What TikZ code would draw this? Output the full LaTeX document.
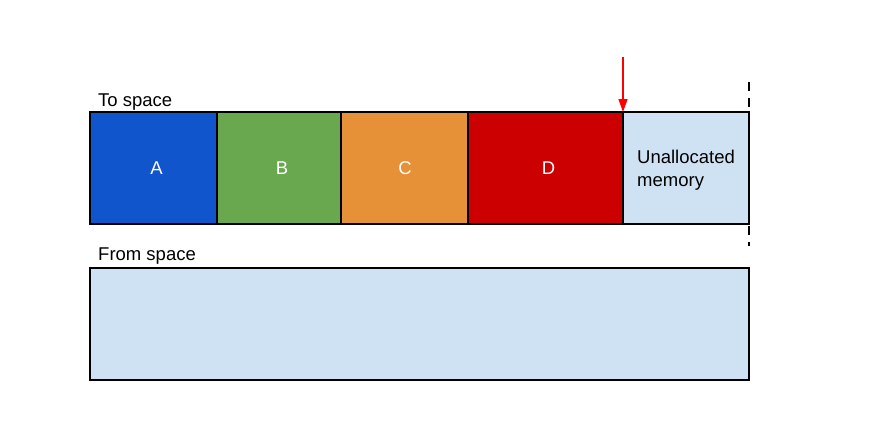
\documentclass[tikz,border=0pt]{standalone}
\usepackage{fontspec}
\setmainfont{Liberation Sans}
\usetikzlibrary{arrows.meta}
\definecolor{cA}{HTML}{1155CC}
\definecolor{cB}{HTML}{6AA84F}
\definecolor{cC}{HTML}{E69138}
\definecolor{cD}{HTML}{CC0000}
\definecolor{cU}{HTML}{CFE2F3}
\begin{document}
\begin{tikzpicture}[x=1pt,y=-1pt,
  blk/.style={draw=black,line width=1.3pt,inner sep=0pt,outer sep=0pt,font=\fontsize{18.5}{22}\selectfont,align=left},
  lbl/.style={anchor=base west,inner sep=0pt,font=\fontsize{18.5}{22}\selectfont}]
\useasboundingbox[fill=white] (0,0) rectangle (870,424);
\node[blk,fill=cA,text=white,minimum width=127pt,minimum height=112pt] (A) at (153.5,168) {\hspace*{6pt}A};
\node[blk,fill=cB,text=white,minimum width=124pt,minimum height=112pt] (B) at (279,168) {\hspace*{6pt}B};
\node[blk,fill=cC,text=white,minimum width=127pt,minimum height=112pt] (C) at (404.5,168) {\hspace*{1pt}C};
\node[blk,fill=cD,text=white,minimum width=155pt,minimum height=112pt] (D) at (545.5,168) {\hspace*{6pt}D};
\node[blk,fill=cU,minimum width=126pt,minimum height=112pt] (U) at (686,168) {};
\node[anchor=west,inner sep=0pt,font=\fontsize{18.5}{23}\selectfont,align=left] (Ut) at (637,170) {Unallocated\\memory};
\node[blk,fill=cU,minimum width=659pt,minimum height=112pt] (F) at (419.5,324) {};
\node[lbl] (TS) at (98,106) {To space};
\node[lbl] (FS) at (98,260) {From space};
\coordinate (ar) at ([yshift=55pt]D.north east);
\draw[red,line width=1.3pt,-{Triangle[length=13pt,width=9pt]}] (ar) -- (D.north east);
\coordinate (d1) at (749,82);
\coordinate (d2) at (749,246);
\draw[black,line width=1.6pt,dash pattern=on 9pt off 7pt] (d1) -- (d2);
\end{tikzpicture}
\end{document}
